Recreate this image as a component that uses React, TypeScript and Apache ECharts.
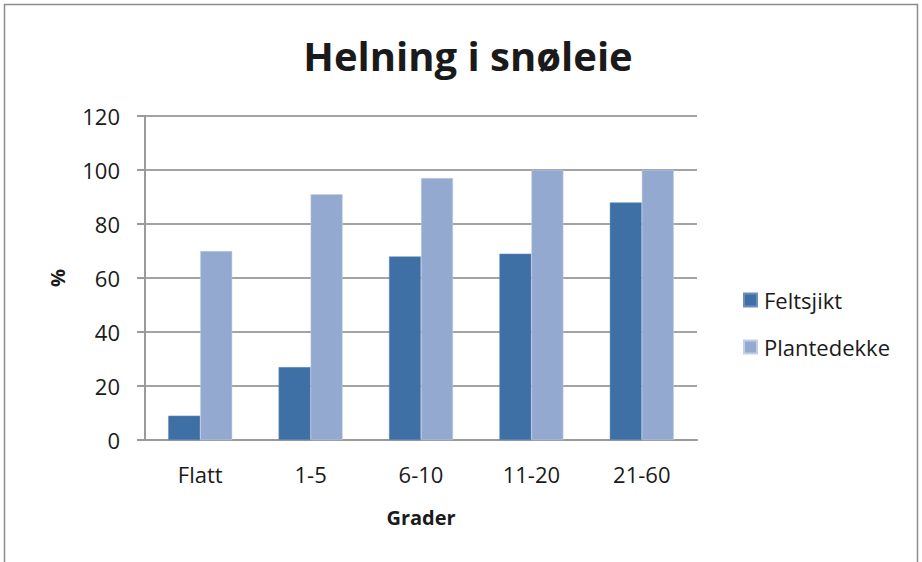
import React, { useEffect, useRef } from "react";
import * as echarts from "echarts";

const categories = ["Flatt", "1-5", "6-10", "11-20", "21-60"];
const feltsjikt = [9, 27, 68, 69, 88];
const plantedekke = [70, 91, 97, 100, 100];
const seriesNames = ["Feltsjikt", "Plantedekke"];

const FONT = "Open Sans";

export default function App() {
  const ref = useRef<HTMLDivElement>(null);
  useEffect(() => {
    if (!ref.current) return;
    const chart = echarts.init(ref.current, undefined, { renderer: "svg" });
    chart.setOption({
      animation: false,
      backgroundColor: "#ffffff",
      title: {
        text: "Helning i snøleie",
        left: 463,
        textAlign: "center",
        top: 30,
        textStyle: { fontFamily: FONT, fontSize: 40, fontWeight: "bold", color: "#1a1a1a" },
      },
      graphic: [
        {
          type: "rect",
          shape: { x: 4.5, y: 4.5, width: 913, height: 570 },
          style: { fill: "none", stroke: "#8c8c8c", lineWidth: 1.5 },
          silent: true,
        },
      ],
      legend: {
        orient: "vertical",
        left: 738,
        top: 283,
        itemWidth: 13,
        itemHeight: 13,
        itemGap: 23,
        icon: "rect",
        textStyle: { fontFamily: FONT, fontSize: 22, lineHeight: 24, color: "#1a1a1a", padding: [0, 0, 0, 2] },
        data: seriesNames,
      },
      grid: { left: 145, right: 225, top: 116, bottom: 122 },
      xAxis: {
        type: "category",
        data: categories,
        name: "Grader",
        nameLocation: "middle",
        nameGap: 67,
        nameTextStyle: { fontFamily: FONT, fontSize: 20, fontWeight: "bold", color: "#1a1a1a" },
        axisLine: { lineStyle: { color: "#9a9a9a", width: 2 } },
        axisTick: { show: false },
        axisLabel: { fontFamily: FONT, fontSize: 22, color: "#1a1a1a", margin: 23 },
      },
      yAxis: {
        type: "value",
        min: 0,
        max: 120,
        interval: 20,
        name: "%",
        nameLocation: "middle",
        nameGap: 78,
        nameRotate: 90,
        nameTextStyle: { fontFamily: FONT, fontSize: 20, fontWeight: "bold", color: "#1a1a1a" },
        axisLine: { show: true, lineStyle: { color: "#9a9a9a", width: 2 } },
        axisTick: { show: true, length: 8, lineStyle: { color: "#9a9a9a", width: 2 } },
        axisLabel: { fontFamily: FONT, fontSize: 22, color: "#1a1a1a", margin: 25 },
        splitLine: { lineStyle: { color: "#a3a3a3", width: 2 } },
      },
      series: [
        {
          name: seriesNames[0],
          type: "bar",
          data: feltsjikt,
          barWidth: 32,
          barGap: "0%",
          itemStyle: { color: "#3e70a6", borderColor: "#6b8fbd", borderWidth: 0.5 },
        },
        {
          name: seriesNames[1],
          type: "bar",
          data: plantedekke,
          barWidth: 32,
          barGap: "0%",
          itemStyle: { color: "#93a9cf", borderColor: "#c2d0e6", borderWidth: 0.5 },
        },
      ],
    });
    return () => chart.dispose();
  }, []);
  return (
    <div
      ref={ref}
      style={{ position: "fixed", left: 0, top: 0, width: 922, height: 562 }}
    />
  );
}
